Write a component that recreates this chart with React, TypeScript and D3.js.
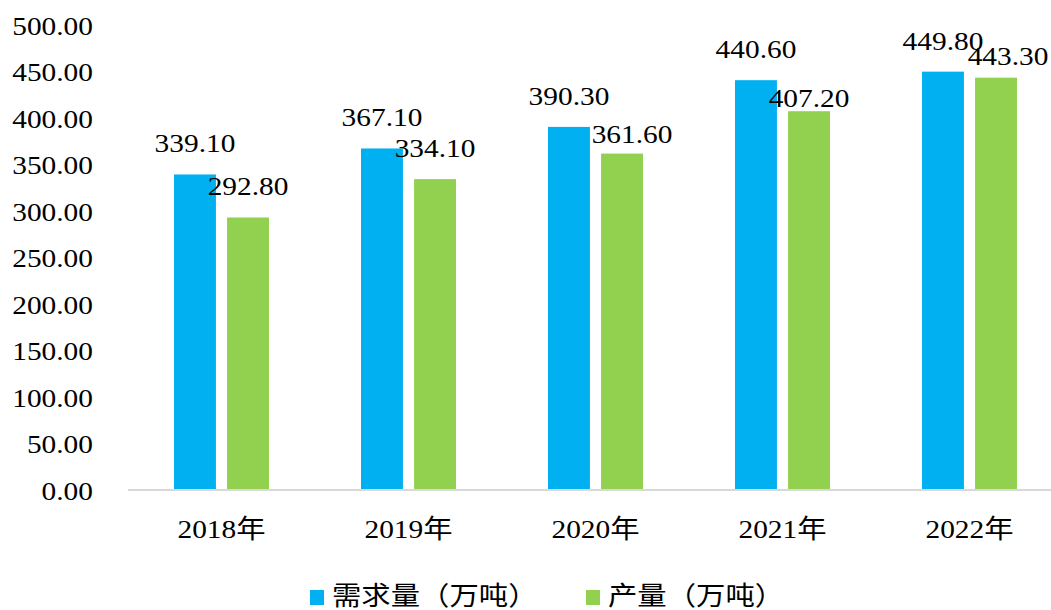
import React, { useEffect, useRef } from "react";
import * as d3 from "d3";

const years = ["2018年", "2019年", "2020年", "2021年", "2022年"];
const demand = [339.1, 367.1, 390.3, 440.6, 449.8];
const output = [292.8, 334.1, 361.6, 407.2, 443.3];
const seriesNames = ["需求量（万吨）", "产量（万吨）"];
const seriesColors = ["#00B0F0", "#92D050"];

// hand-placed label nudges from the original (dx, dy) per series, per year
const labelNudge = [
  [[0, 0], [0, 0], [0, 0], [0, 0], [0, 0]],
  [[0, 0], [0, 0], [10, 11.5], [0, 18], [12, 9]],
];

const width = 1051;
const height = 610;
const font = '"Liberation Serif", "Times New Roman", "Noto Sans CJK SC", serif';
const stretch = 1.13;

const App = () => {
  const ref = useRef(null);

  useEffect(() => {
    const svg = d3.select(ref.current);
    svg.selectAll("*").remove();

    const x0 = d3
      .scaleBand()
      .domain(years)
      .range([128, 1063])
      .paddingInner(0.492)
      .paddingOuter(0.246);
    const x1 = d3
      .scaleBand()
      .domain(["0", "1"])
      .range([0, x0.bandwidth()])
      .paddingInner(0.21);
    const y = d3.scaleLinear().domain([0, 500]).range([489.5, 25]);

    // y tick labels
    svg
      .append("g")
      .selectAll("text")
      .data(d3.range(0, 501, 50))
      .join("text")
      .attr("transform", (d) => `translate(93,${y(d)}) scale(${stretch},1)`)
      .attr("dy", 10)
      .attr("text-anchor", "end")
      .attr("font-family", font)
      .attr("font-size", 26)
      .attr("fill", "#000")
      .text((d) => d3.format(".2f")(d));

    // bars
    const rows = years.map((yr, i) => ({
      yr,
      vals: [demand[i], output[i]].map((v, s) => ({ v, s, n: labelNudge[s][i] })),
    }));
    const groups = svg
      .append("g")
      .selectAll("g")
      .data(rows)
      .join("g")
      .attr("transform", (d) => `translate(${x0(d.yr)},0)`);

    groups
      .selectAll("rect")
      .data((d) => d.vals)
      .join("rect")
      .attr("x", (d) => x1(String(d.s))!)
      .attr("y", (d) => y(d.v))
      .attr("width", x1.bandwidth())
      .attr("height", (d) => y(0) - y(d.v))
      .attr("fill", (d) => seriesColors[d.s]);

    groups
      .selectAll("text")
      .data((d) => d.vals)
      .join("text")
      .attr(
        "transform",
        (d) =>
          `translate(${x1(String(d.s))! + x1.bandwidth() / 2 + d.n[0]},${
            y(d.v) - 22 + d.n[1]
          }) scale(${stretch},1)`
      )
      .attr("text-anchor", "middle")
      .attr("font-family", font)
      .attr("font-size", 26)
      .attr("fill", "#000")
      .text((d) => d3.format(".2f")(d.v));

    // x axis
    svg
      .append("line")
      .attr("x1", x0.range()[0])
      .attr("x2", x0.range()[1])
      .attr("y1", y(0) + 0.5)
      .attr("y2", y(0) + 0.5)
      .attr("stroke", "#D9D9D9")
      .attr("stroke-width", 2);

    svg
      .append("g")
      .selectAll("text")
      .data(years)
      .join("text")
      .attr(
        "transform",
        (d) => `translate(${x0(d)! + x0.bandwidth() / 2},${y(0) + 48.5}) scale(${stretch},1)`
      )
      .attr("text-anchor", "middle")
      .attr("font-family", font)
      .attr("font-size", 26)
      .attr("fill", "#000")
      .text((d) => d);

    // legend
    const legendX = [310, 586];
    const legend = svg
      .append("g")
      .selectAll("g")
      .data(seriesNames)
      .join("g")
      .attr("transform", (_, i) => `translate(${legendX[i]},0)`);
    legend
      .append("rect")
      .attr("x", 0)
      .attr("y", 590)
      .attr("width", 14)
      .attr("height", 15)
      .attr("fill", (_, i) => seriesColors[i]);
    legend
      .append("text")
      .attr("transform", `translate(22,605) scale(${stretch},1)`)
      .attr("font-family", font)
      .attr("font-size", 26)
      .attr("fill", "#000")
      .text((d) => d);
  }, []);

  return (
    <div style={{ position: "absolute", left: 0, top: 0 }}>
      <svg ref={ref} width={width} height={height} style={{ display: "block", background: "#fff" }} />
    </div>
  );
};

export default App;
